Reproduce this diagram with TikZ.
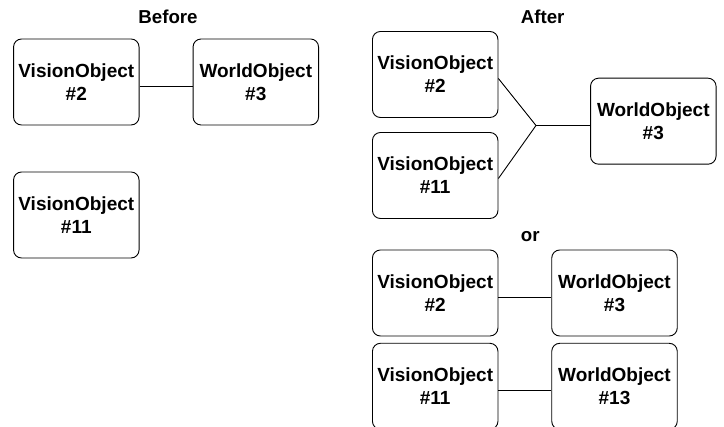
\documentclass[tikz,border=0pt]{standalone}
\usepackage{fontspec}
\setmainfont{Liberation Sans}
\begin{document}
\begin{tikzpicture}[x=1pt,y=-1pt,
  objbox/.style={draw=black, line width=0.9pt, rounded corners=8pt,
    minimum width=125.5pt, minimum height=86pt, inner sep=0pt,
    align=center, font=\bfseries\fontsize{19}{23}\selectfont},
  title/.style={font=\bfseries\fontsize{18.7}{22}\selectfont, anchor=base, inner sep=0pt},
  link/.style={draw=black, line width=0.9pt}]
\clip (0,0) rectangle (724,427);

% Before
\node[title] (tbefore) at (168,24) {Before};
\node[objbox] (bv2)  at (76.3,82)   {VisionObject\\\#2};
\node[objbox] (bw3)  at (255.8,82)  {WorldObject\\\#3};
\node[objbox] (bv11) at (76.3,215)  {VisionObject\\\#11};
\draw[link] ([yshift=-4pt]bv2.east) -- ([yshift=-4pt]bw3.west);

% After: both vision objects merged into one world object
\node[title] (tafter) at (542.7,24) {After};
\node[objbox] (av2)  at (435.2,74.5)  {VisionObject\\\#2};
\node[objbox] (av11) at (435.2,175.5) {VisionObject\\\#11};
\node[objbox] (aw3)  at (653.3,121.2) {WorldObject\\\#3};
\coordinate (join) at (536,125.5);
\draw[link] ([yshift=-4pt]av2.east) -- (join);
\draw[link] ([yshift=-3pt]av11.east) -- (join);
\draw[link] (join) -- (aw3.west |- join);

% or: each vision object gets its own world object
\node[title] (tor) at (530.3,241.7) {or};
\node[objbox] (ov2)  at (435.2,293)   {VisionObject\\\#2};
\node[objbox] (ow3)  at (614.5,293)   {WorldObject\\\#3};
\node[objbox] (ov11) at (435.2,386.3) {VisionObject\\\#11};
\node[objbox] (ow13) at (614.5,386.3) {WorldObject\\\#13};
\draw[link] ([yshift=-4pt]ov2.east) -- ([yshift=-4pt]ow3.west);
\draw[link] ([yshift=-4.5pt]ov11.east) -- ([yshift=-4.5pt]ow13.west);
\end{tikzpicture}
\end{document}
